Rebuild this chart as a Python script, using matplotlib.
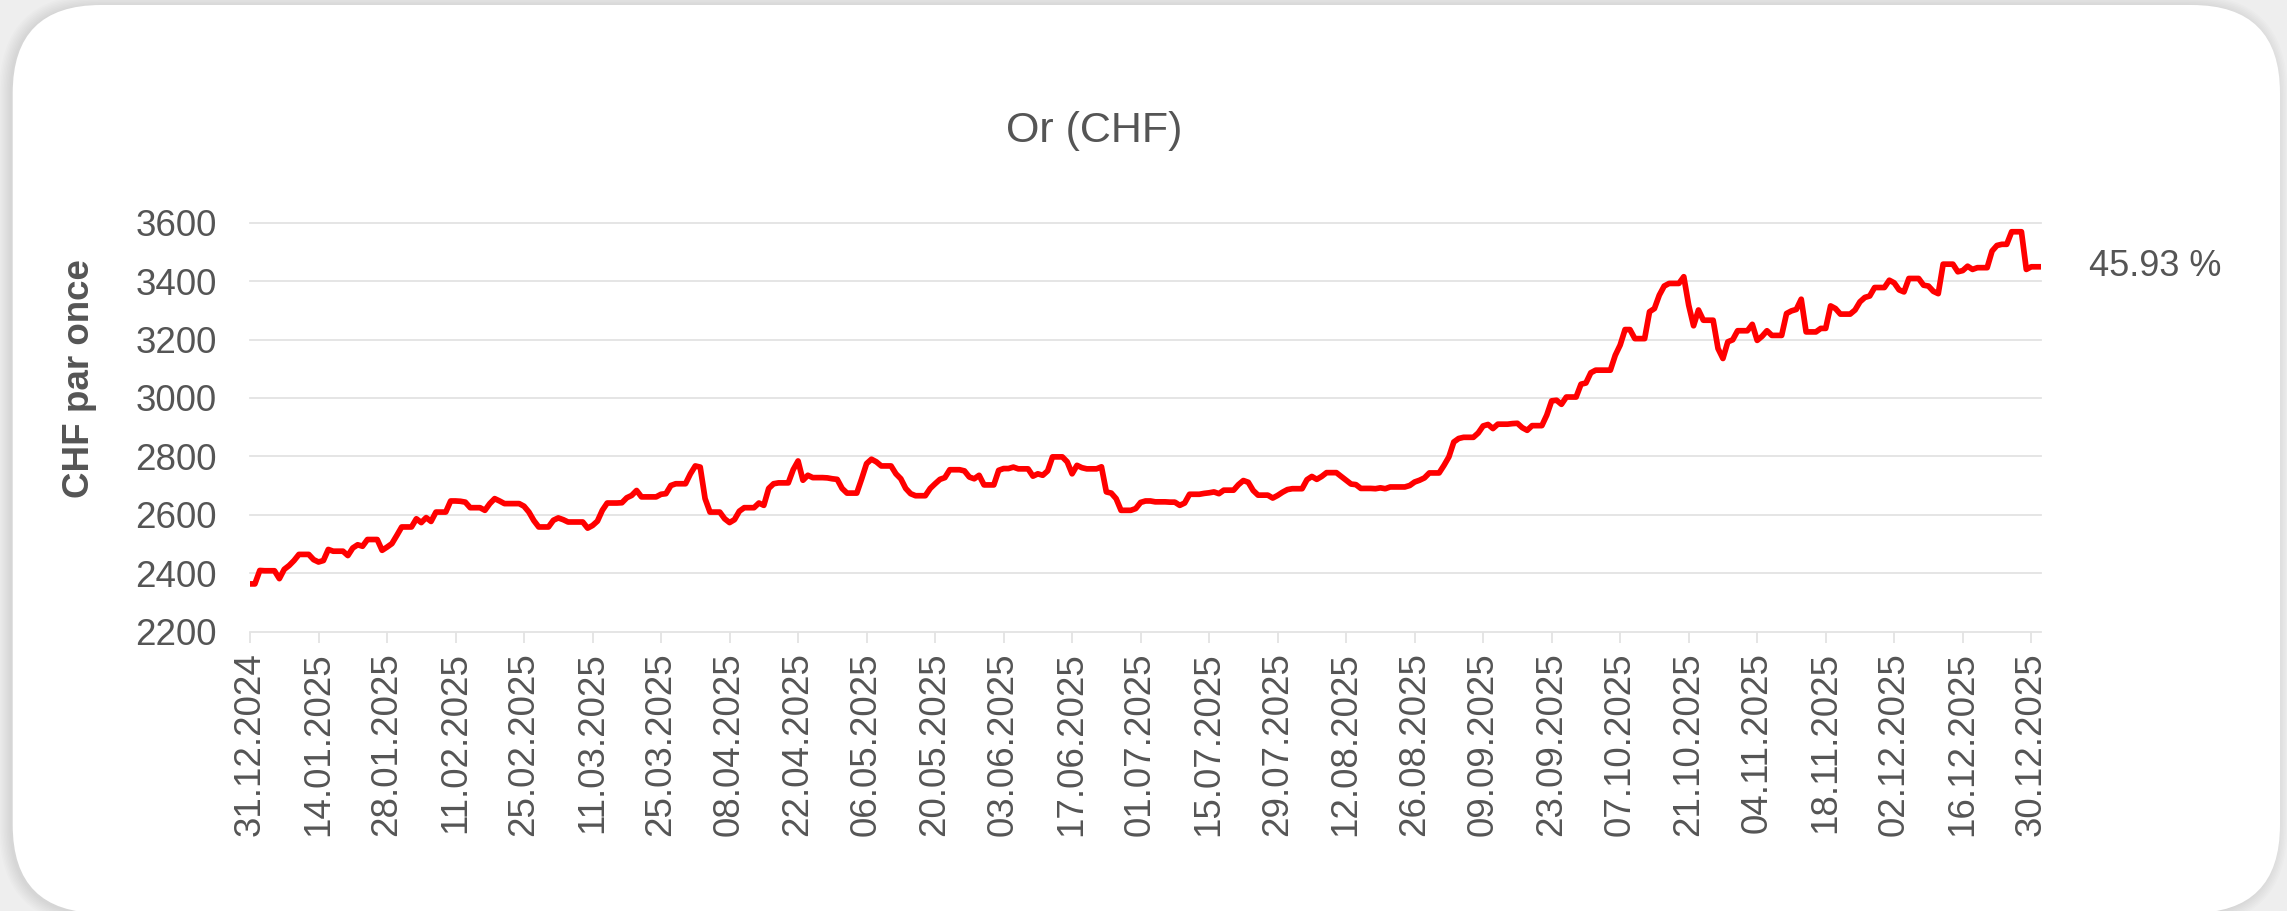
import pandas as pd
import matplotlib
matplotlib.use("Agg")
import matplotlib.pyplot as plt
import matplotlib.dates as mdates
import matplotlib.transforms as mtransforms
from matplotlib.patches import FancyBboxPatch

plt.rcParams['font.family'] = ['Liberation Sans', 'DejaVu Sans']

# daily gold price, CHF per ounce, from 31.12.2024 (weekends keep the friday value)
start_date = "2024-12-31"
prices = [
    2363, 2363, 2409, 2408, 2408, 2408,          # Tue 31.12 - Sun 05.01
    2381, 2413, 2426, 2443, 2464, 2464, 2464,
    2446, 2438, 2443, 2481, 2475, 2475, 2475,
    2460, 2486, 2497, 2492, 2515, 2515, 2515,
    2478, 2489, 2501, 2529, 2558, 2558, 2558,
    2586, 2573, 2590, 2577, 2609, 2609, 2609,    # Feb
    2647, 2647, 2646, 2643, 2624, 2624, 2624,
    2615, 2638, 2655, 2647, 2638, 2638, 2638,
    2638, 2629, 2609, 2580, 2558, 2558, 2558,
    2581, 2589, 2583, 2575, 2575, 2575, 2575,    # Mar
    2554, 2563, 2578, 2615, 2640, 2640, 2640,
    2641, 2658, 2666, 2683, 2661, 2661, 2661,
    2661, 2670, 2672, 2700, 2706, 2706, 2706,
    2740, 2767, 2763, 2655, 2609, 2609, 2609,    # Apr
    2586, 2573, 2583, 2612, 2624, 2624, 2624,
    2640, 2632, 2690, 2706, 2709, 2709, 2709,
    2754, 2784, 2718, 2735, 2727, 2727, 2727,
    2726, 2723, 2721, 2690, 2674, 2674, 2674,
    2723, 2775, 2790, 2781, 2767, 2767, 2767,    # May
    2740, 2723, 2690, 2672, 2665, 2665, 2665,
    2690, 2706, 2721, 2727, 2754, 2754, 2754,
    2750, 2729, 2723, 2735, 2702, 2702, 2702,
    2752, 2758, 2758, 2763, 2757, 2757, 2757,    # Jun
    2732, 2740, 2735, 2750, 2798, 2798, 2798,
    2781, 2740, 2769, 2761, 2757, 2757, 2757,
    2764, 2678, 2674, 2655, 2615, 2615, 2615,
    2621, 2642, 2647, 2647, 2644, 2644, 2644,    # Jul
    2643, 2643, 2632, 2640, 2670, 2670, 2670,
    2673, 2675, 2678, 2672, 2684, 2684, 2684,
    2703, 2717, 2711, 2683, 2667, 2667, 2667,
    2657, 2666, 2677, 2686, 2689, 2689, 2689,    # Aug
    2720, 2731, 2721, 2731, 2744, 2744, 2744,
    2731, 2718, 2705, 2703, 2690, 2690, 2690,
    2689, 2692, 2689, 2695, 2695, 2695, 2695,
    2700, 2712, 2718, 2726, 2743, 2743, 2743,
    2769, 2798, 2849, 2861, 2865, 2865, 2865,    # Sep
    2880, 2904, 2909, 2895, 2910, 2910, 2910,
    2912, 2913, 2898, 2889, 2905, 2905, 2905,
    2941, 2990, 2992, 2978, 3003, 3003, 3003,
    3047, 3051, 3086, 3095, 3095, 3095, 3095,    # Oct
    3146, 3181, 3234, 3234, 3203, 3203, 3203,
    3295, 3306, 3352, 3383, 3392, 3392, 3392,
    3415, 3318, 3247, 3301, 3266, 3266, 3266,
    3169, 3135, 3192, 3199, 3230, 3230, 3230,
    3252, 3197, 3211, 3230, 3214, 3214, 3214,    # Nov
    3289, 3298, 3303, 3338, 3226, 3226, 3226,
    3238, 3238, 3315, 3306, 3287, 3287, 3287,
    3301, 3329, 3344, 3349, 3378, 3378, 3378,
    3403, 3394, 3370, 3363, 3409, 3409, 3409,    # Dec
    3386, 3383, 3365, 3357, 3458, 3458, 3458,
    3432, 3436, 3451, 3440, 3446, 3446, 3446,
    3503, 3522, 3526, 3526, 3569, 3569, 3569,
    3440, 3449, 3449, 3449,                      # Mon 29.12 - Thu 01.01
]
last_tick = "2025-12-30"
tick_every = "14D"
y_ticks = [2200, 2400, 2600, 2800, 3000, 3200, 3400, 3600]
title = "Or (CHF)"
y_label = "CHF par once"
perf_label = "45.93 %"

TXT = '#555555'
GRID = '#e3e3e3'
W, H = 2287, 911

fig = plt.figure(figsize=(W / 100, H / 100), dpi=100)
fig.patch.set_facecolor('#eeeeee')

# card in pixel units
bg = fig.add_axes([0, 0, 1, 1], zorder=0)
bg.set_xlim(0, W)
bg.set_ylim(0, H)
bg.axis('off')
for i in range(8):
    bg.add_patch(FancyBboxPatch((12.7 - 3, -4), 2267.3, 910,
                                boxstyle=f"round,pad={i * 1.5},rounding_size={88 + i * 1.5}",
                                fc='black', ec='none', alpha=0.012))
bg.add_patch(FancyBboxPatch((12.7, -2), 2267.3, 908,
                            boxstyle="round,pad=0,rounding_size=88",
                            fc='white', ec='none'))

ax = fig.add_axes([250 / W, 279.5 / H, 1791 / W, 408.8 / H], zorder=2)
ax.patch.set_alpha(0)

dates = pd.date_range(start_date, periods=len(prices), freq='D')
ax.plot(dates, prices, color='#ff0000', lw=4.1, zorder=3)

ax.set_xlim(dates[0], dates[-1])
ax.set_ylim(y_ticks[0], y_ticks[-1])
ax.set_yticks(y_ticks)
ax.grid(axis='y', color=GRID, lw=1.3)
for gl in ax.get_ygridlines():
    gl.set_clip_on(False)
ax.set_axisbelow(True)
for s in ax.spines.values():
    s.set_visible(False)

ax.set_xticks(pd.date_range(start_date, last_tick, freq=tick_every))
ax.xaxis.set_major_formatter(mdates.DateFormatter('%d.%m.%Y'))
ax.tick_params(axis='x', length=8, width=1.3, color=GRID, pad=7,
               labelsize=26.5, labelcolor=TXT, labelrotation=90)
ax.tick_params(axis='y', length=0, pad=24, labelsize=26.5, labelcolor=TXT)

fig.text(1094 / W, 1 - 131 / H, title, ha='center', va='center',
         fontsize=31, color=TXT)
fig.text(80 / W, 1 - 379 / H, y_label, rotation=90, ha='center', va='center',
         fontsize=26.5, fontweight='bold', color=TXT)

trans = mtransforms.blended_transform_factory(ax.transAxes, ax.transData)
ax.text(1.0268, prices[-1], perf_label, transform=trans, ha='left', va='center',
        fontsize=26, color=TXT)

fig.savefig('out.png', dpi=100, facecolor=fig.get_facecolor())
